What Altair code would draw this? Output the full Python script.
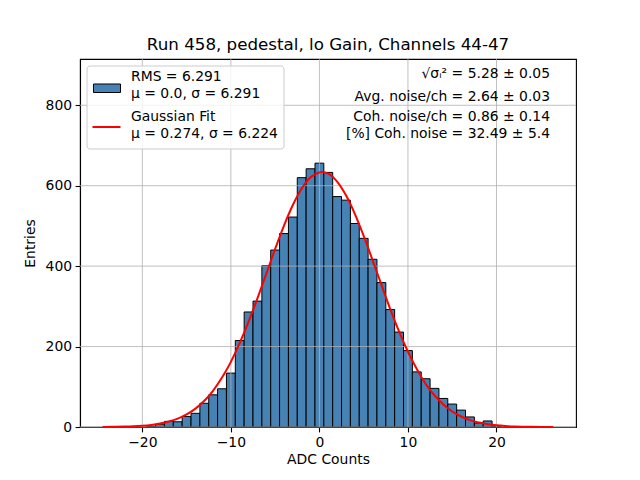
import altair as alt
import pandas as pd

# ---- data ----
bin_centers = list(range(-19, 21))
bin_counts = [2, 7, 14, 13, 26, 34, 59, 80, 95, 134,
              215, 286, 313, 401, 440, 481, 522, 620, 642, 656,
              633, 573, 564, 506, 469, 417, 359, 292, 236, 190,
              137, 120, 96, 71, 57, 42, 25, 10, 15, 2]

fit_x = [-24.5, -24, -23, -22, -21, -20, -19, -18, -17, -16, -15, -14, -13, -12, -11,
         -10, -9, -8, -7, -6, -5, -4, -3, -2, -1, 0, 0.27, 1, 2, 3, 4, 5, 6, 7, 8, 9,
         10, 11, 12, 13, 14, 15, 16, 17, 18, 19, 20, 21, 22, 23, 24, 25, 26, 26.4]
fit_y = [0.2, 0.3, 0.6, 1.0, 1.8, 3.1, 5.2, 8.5, 13.5, 20.8, 31.2, 45.7, 65.2, 90.7, 122.9,
         162, 209, 262, 320, 381, 443, 501, 552, 593, 621, 633, 634, 630, 610, 576, 530, 475, 415, 354, 293, 237,
         187, 144, 107, 78.4, 55.7, 38.6, 26.1, 17.1, 11.0, 6.9, 4.2, 2.5, 1.4, 0.8, 0.4, 0.2, 0.1, 0.1]

x_ticks = [-20, -10, 0, 10, 20]
y_ticks = [0, 200, 400, 600, 800]

title = "Run 458, pedestal, lo Gain, Channels 44-47"
legend_lines = ["RMS = 6.291", "\u03bc = 0.0, \u03c3 = 6.291", "Gaussian Fit", "\u03bc = 0.274, \u03c3 = 6.224"]
info_lines = ["\u221a\u03c3\u1d62\u00b2 = 5.28 \u00b1 0.05", "Avg. noise/ch = 2.64 \u00b1 0.03",
              "Coh. noise/ch = 0.86 \u00b1 0.14", "[%] Coh. noise = 32.49 \u00b1 5.4"]

FONT = "DejaVu Sans"
hist = pd.DataFrame({"center": bin_centers, "count": bin_counts})
fit = pd.DataFrame({"x": fit_x, "y": fit_y})

xs = alt.Scale(domain=[-27.04, 28.98], nice=False, zero=False)
ys = alt.Scale(domain=[0, 915], nice=False)

bars = alt.Chart(hist).transform_calculate(
    lo="datum.center - 0.5", hi="datum.center + 0.5", base="0"
).mark_rect(color="#4682b4", stroke="black", strokeWidth=1).encode(
    x=alt.X("lo:Q", scale=xs, axis=alt.Axis(values=x_ticks, title="ADC Counts", grid=False)),
    x2="hi:Q",
    y=alt.Y("count:Q", scale=ys, axis=alt.Axis(values=y_ticks, title="Entries", grid=False)),
    y2="base:Q",
)

xgrid = alt.Chart(pd.DataFrame({"t": x_ticks})).mark_rule(color="#b0b0b0", strokeWidth=0.8).encode(
    x=alt.X("t:Q", scale=xs))
ygrid = alt.Chart(pd.DataFrame({"t": y_ticks})).mark_rule(color="#b0b0b0", strokeWidth=0.8).encode(
    y=alt.Y("t:Q", scale=ys))

line = alt.Chart(fit).mark_line(color="red", strokeWidth=2, interpolate="monotone").encode(
    x=alt.X("x:Q", scale=xs), y=alt.Y("y:Q", scale=ys))

one = pd.DataFrame({"k": [0]})

legend_box = alt.Chart(one).mark_rect(fill="white", fillOpacity=0.8, stroke="#cccccc",
                                      strokeWidth=1, cornerRadius=3).encode(
    x=alt.value(7), x2=alt.value(204), y=alt.value(7), y2=alt.value(90))
swatch = alt.Chart(one).mark_rect(fill="#4682b4", stroke="black", strokeWidth=1).encode(
    x=alt.value(13.5), x2=alt.value(40.5), y=alt.value(25), y2=alt.value(33.5))
swline = alt.Chart(one).mark_rule(color="red", strokeWidth=2).encode(
    x=alt.value(12.5), x2=alt.value(40.5), y=alt.value(68))

title_mark = alt.Chart(pd.DataFrame({"t": [title]})).mark_text(
    align="center", baseline="alphabetic", font=FONT, fontSize=16.7, color="black").encode(
    x=alt.value(248), y=alt.value(-9), text="t:N")

layers = [bars, xgrid, ygrid, line, legend_box, swatch, swline, title_mark]

for txt, yy in zip(legend_lines, [17.7, 35, 57.7, 75.3]):
    layers.append(alt.Chart(pd.DataFrame({"t": [txt]})).mark_text(
        align="left", baseline="middle", font=FONT, fontSize=13.9, color="black").encode(
        x=alt.value(51), y=alt.value(yy), text="t:N"))

for txt, yy in zip(info_lines, [15, 37.7, 58, 75.3]):
    layers.append(alt.Chart(pd.DataFrame({"t": [txt]})).mark_text(
        align="right", baseline="middle", font=FONT, fontSize=13.9, color="black").encode(
        x=alt.value(470), y=alt.value(yy), text="t:N"))

chart = alt.layer(*layers).properties(
    width=496, height=368,
    autosize=alt.AutoSizeParams(type="none"),
    padding={"left": 72, "top": 51, "right": 56, "bottom": 45},
).configure_view(stroke="black", strokeWidth=1.1).configure_axis(
    labelFont=FONT, titleFont=FONT, labelFontSize=13.9, titleFontSize=13.9,
    labelColor="black", titleColor="black", titleFontWeight="normal",
    domainColor="black", domainWidth=1.1, tickColor="black", tickWidth=1.1, tickSize=4.9,
    labelPadding=3.5, labelFlush=False, labelOverlap=False,
).configure_axisX(titlePadding=3).configure_axisY(titlePadding=8)

chart.save("out.html", embed_options={"renderer": "svg", "actions": False})
